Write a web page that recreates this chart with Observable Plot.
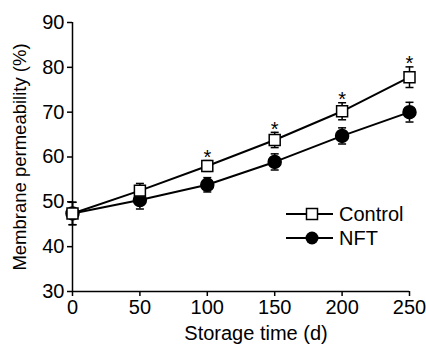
<!DOCTYPE html>
<html>
<head>
<meta charset="utf-8">
<script src="https://cdn.jsdelivr.net/npm/d3@7"></script>
<script src="https://cdn.jsdelivr.net/npm/@observablehq/plot@0.6"></script>
<style>
  html, body { margin: 0; padding: 0; background: #fff; }
  #wrap { position: relative; width: 426px; height: 344px; font-family: "Liberation Sans", Arial, sans-serif; color: #000; }
  #legend { position: absolute; left: 284px; top: 202px; }
</style>
</head>
<body>
<div id="wrap"><div id="chart"></div><div id="legend"></div></div>
<script>
const days = [0, 50, 100, 150, 200, 250];
const controlMean = [47.4, 52.5, 58.0, 63.8, 70.2, 77.8];
const controlErr  = [2.5, 1.6, 1.2, 1.7, 1.9, 2.3];
const nftMean     = [47.4, 50.4, 53.8, 58.9, 64.7, 70.0];
const nftErr      = [2.5, 2.0, 1.6, 1.8, 1.8, 2.2];
const significant = [false, false, true, true, true, true];
const xTicks = [0, 50, 100, 150, 200, 250];
const yTicks = [30, 40, 50, 60, 70, 80, 90];
const seriesNames = ["Control", "NFT"];

const control = days.map((d, i) => ({x: d, y: controlMean[i], e: controlErr[i], sig: significant[i]}));
const nft = days.map((d, i) => ({x: d, y: nftMean[i], e: nftErr[i]}));
const caps = (arr) => arr.flatMap(d => [{x: d.x, y: d.y + d.e}, {x: d.x, y: d.y - d.e}]);

const capSymbol = {
  draw(context, size) {
    const r = Math.sqrt(size / Math.PI);
    context.moveTo(-r, 0);
    context.lineTo(r, 0);
  }
};

const font = "Liberation Sans, Arial, sans-serif";

const chart = Plot.plot({
  width: 426,
  height: 344,
  marginLeft: 72,
  marginTop: 22,
  marginRight: 17,
  marginBottom: 53,
  style: {fontFamily: font, color: "#000", background: "#fff", overflow: "visible"},
  x: {domain: [0, 250]},
  y: {domain: [30, 90]},
  marks: [
    Plot.axisY({ticks: yTicks, tickSize: 5, tickPadding: 3, fontSize: 20, label: null, strokeWidth: 1.5}),
    Plot.axisX({ticks: xTicks, tickSize: 5, tickPadding: 3, fontSize: 20, label: null, strokeWidth: 1.5}),
    Plot.ruleX([0], {strokeWidth: 1.5}),
    Plot.ruleY([30], {strokeWidth: 1.5}),
    Plot.text(["Storage time (d)"], {frameAnchor: "bottom", textAnchor: "middle", dx: 15, dy: 42, fontSize: 20, lineAnchor: "middle"}),
    Plot.text(["Membrane permeability (%)"], {frameAnchor: "left", textAnchor: "middle", lineAnchor: "middle", dx: -52, rotate: -90, fontSize: 18.5}),
    Plot.line(control, {x: "x", y: "y", strokeWidth: 2}),
    Plot.line(nft, {x: "x", y: "y", strokeWidth: 2}),
    Plot.ruleX(control, {x: "x", y1: d => d.y - d.e, y2: d => d.y + d.e, strokeWidth: 1.5}),
    Plot.ruleX(nft, {x: "x", y1: d => d.y - d.e, y2: d => d.y + d.e, strokeWidth: 1.5}),
    Plot.dot(caps(control), {x: "x", y: "y", symbol: capSymbol, r: 4, stroke: "#000", strokeWidth: 1.5}),
    Plot.dot(caps(nft), {x: "x", y: "y", symbol: capSymbol, r: 4, stroke: "#000", strokeWidth: 1.5}),
    Plot.dot(nft, {x: "x", y: "y", r: 6.5, fill: "#000", stroke: "#000"}),
    Plot.dot(control, {x: "x", y: "y", symbol: "square", r: 6.2, fill: "#fff", stroke: "#000", strokeWidth: 1.5}),
    Plot.text(control.filter(d => d.sig), {x: "x", y: d => d.y + d.e, text: () => "*", dy: -3, fontSize: 20})
  ]
});
document.getElementById("chart").append(chart);

// legend
const ns = "http://www.w3.org/2000/svg";
const lg = document.createElementNS(ns, "svg");
lg.setAttribute("width", 140);
lg.setAttribute("height", 50);
lg.style.fontFamily = font;
lg.style.overflow = "visible";
seriesNames.forEach((name, i) => {
  const cy = 12 + i * 24;
  const line = document.createElementNS(ns, "line");
  line.setAttribute("x1", 2); line.setAttribute("x2", 49);
  line.setAttribute("y1", cy); line.setAttribute("y2", cy);
  line.setAttribute("stroke", "#000"); line.setAttribute("stroke-width", 2);
  lg.append(line);
  let m;
  if (i === 0) {
    m = document.createElementNS(ns, "rect");
    m.setAttribute("x", 28 - 5.5); m.setAttribute("y", cy - 5.5);
    m.setAttribute("width", 11); m.setAttribute("height", 11);
    m.setAttribute("fill", "#fff"); m.setAttribute("stroke", "#000"); m.setAttribute("stroke-width", 1.5);
  } else {
    m = document.createElementNS(ns, "circle");
    m.setAttribute("cx", 28); m.setAttribute("cy", cy); m.setAttribute("r", 6.5);
    m.setAttribute("fill", "#000");
  }
  lg.append(m);
  const t = document.createElementNS(ns, "text");
  t.setAttribute("x", 55); t.setAttribute("y", cy);
  t.setAttribute("dy", "0.35em");
  t.setAttribute("font-size", 20);
  t.textContent = name;
  lg.append(t);
});
document.getElementById("legend").append(lg);
</script>
</body>
</html>
